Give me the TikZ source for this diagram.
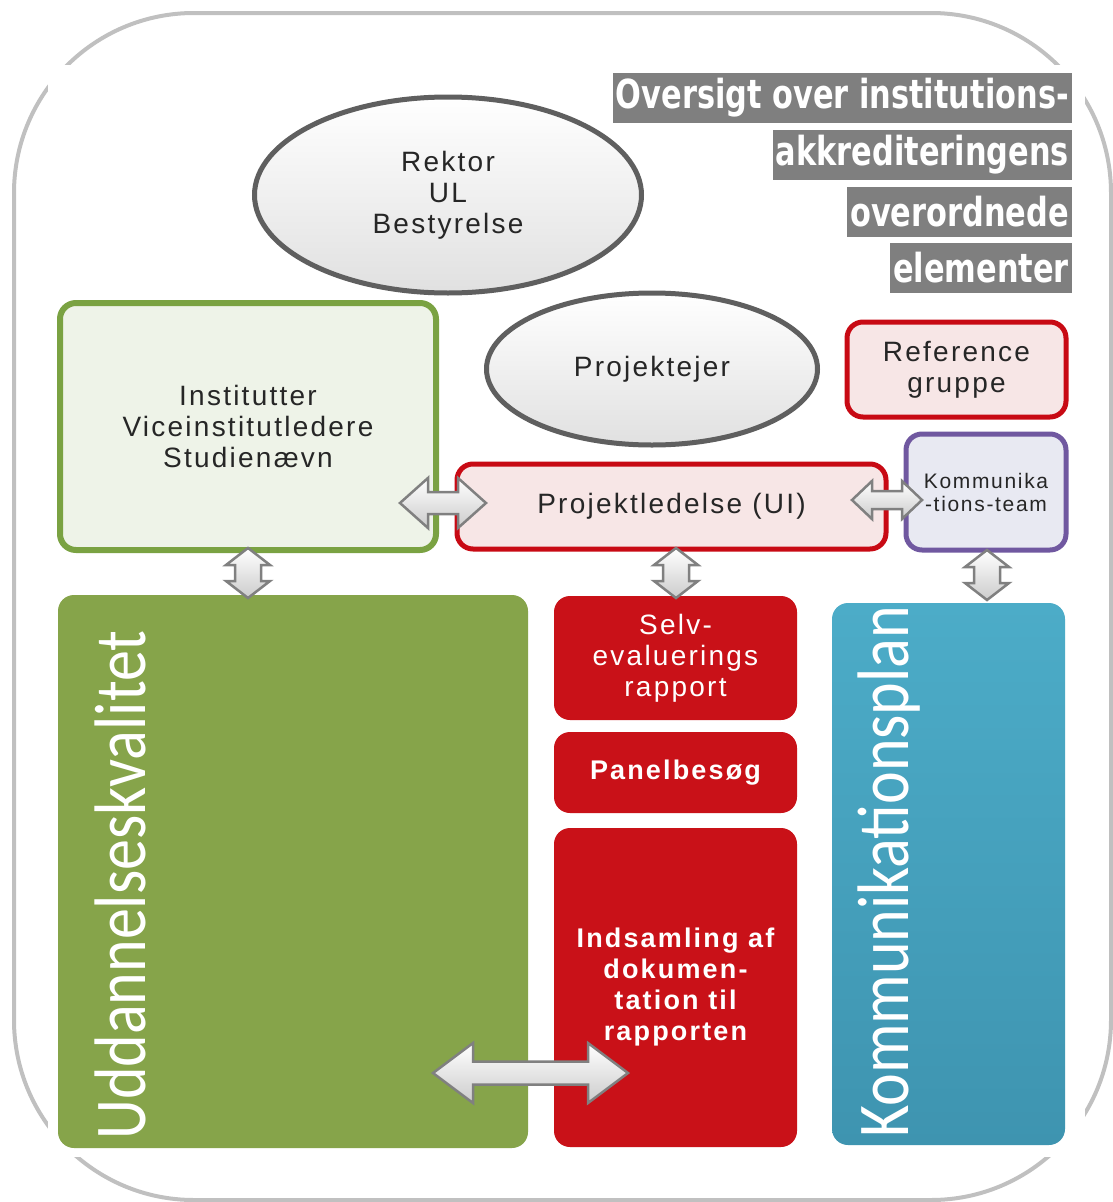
\documentclass[tikz,border=0pt]{standalone}
\usepackage{fontspec}
\usetikzlibrary{shapes.geometric}
\newfontfamily\arialls[LetterSpace=8]{Liberation Sans}
\newfontfamily\titlef[FakeStretch=0.76]{DejaVu Sans}
\newfontfamily\calib[FakeStretch=0.85]{Carlito}
\definecolor{framegray}{RGB}{192,192,192}
\definecolor{titlegray}{RGB}{127,127,127}
\definecolor{ellgray}{RGB}{95,95,95}
\definecolor{txtdark}{RGB}{38,38,38}
\definecolor{grnborder}{RGB}{122,162,66}
\definecolor{grnfill}{RGB}{238,243,232}
\definecolor{redborder}{RGB}{200,10,20}
\definecolor{redlight}{RGB}{247,230,230}
\definecolor{purpborder}{RGB}{112,88,160}
\definecolor{purpfill}{RGB}{232,233,242}
\definecolor{bigred}{RGB}{201,17,24}
\definecolor{biggreen}{RGB}{134,164,74}
\definecolor{bluetop}{RGB}{76,172,200}
\definecolor{bluebot}{RGB}{62,148,176}
\definecolor{arrgray}{RGB}{128,128,128}
\definecolor{arrfill}{RGB}{240,240,240}
\newcommand\dblblockarrow[7]{%
  \begin{scope}[shift={(#1,#2)},rotate=#7]
    \draw[barrow] (-#3,0) -- (-#3+#4,-#5) -- (-#3+#4,-#6) -- (#3-#4,-#6) -- (#3-#4,-#5)
      -- (#3,0) -- (#3-#4,#5) -- (#3-#4,#6) -- (-#3+#4,#6) -- (-#3+#4,#5) -- cycle;
  \end{scope}}
\tikzset{
  mainf/.style={font=\arialls\fontsize{28}{31}\selectfont},
  mainbf/.style={font=\arialls\bfseries\fontsize{27}{31}\selectfont},
  ell/.style={ellipse, draw=ellgray, line width=5pt, top color=white, bottom color=black!12,
    inner sep=0pt, text=txtdark, align=center, mainf},
  rbox/.style={rectangle, rounded corners=16pt, inner sep=0pt, align=center, line width=5pt},
  bigbox/.style={rectangle, rounded corners=16pt, inner sep=0pt, align=center},
  titlebox/.style={fill=titlegray, text=white, anchor=east, inner xsep=3pt, inner ysep=0pt,
    minimum height=50pt, font=\titlef\bfseries\fontsize{40}{40}\selectfont},
  vtext/.style={rotate=90, anchor=base west, inner sep=0pt, text=white,
    font=\calib\fontsize{73}{73}\selectfont},
  barrow/.style={draw=arrgray, line width=2.5pt, top color=white, bottom color=arrfill!85!black, line join=miter}
}
\begin{document}
\begin{tikzpicture}[x=1pt,y=-1pt]
\useasboundingbox (0,0) rectangle (1113,1202);
\draw[framegray, line width=4pt, rounded corners=180pt] (14,13) rectangle (1111,1200);
\fill[white] (48,65) rectangle (1085,1157);

% title
\node[titlebox] (t1) at (1072,98) {Oversigt over institutions-};
\node[titlebox] (t2) at (1072,155) {akkrediteringens};
\node[titlebox] (t3) at (1072,212) {overordnede};
\node[titlebox] (t4) at (1072,268) {elementer};

% ellipses
\node[ell, minimum width=387pt, minimum height=196pt] (rektor) at (448,195) {Rektor\\UL\\Bestyrelse};
\node[ell, minimum width=331pt, minimum height=152pt] (ejer) at (652,369) {Projektejer};

% upper boxes
\node[rbox, draw=redborder, fill=redlight, minimum width=219pt, minimum height=95pt, text=txtdark, mainf]
  (ref) at (956.5,369.5) {Reference\\gruppe};
\node[rbox, draw=grnborder, fill=grnfill, line width=6pt, minimum width=376pt, minimum height=247pt, text=txtdark, mainf]
  (inst) at (248,426.5) {Institutter\\Viceinstitutledere\\Studienævn};
\node[rbox, draw=redborder, fill=redlight, minimum width=429pt, minimum height=85pt, text=txtdark, mainf]
  (pl) at (671.5,506.5) {Projektledelse (UI)};
\node[rbox, draw=purpborder, fill=purpfill, minimum width=160pt, minimum height=116pt, text=txtdark,
  font=\arialls\fontsize{21}{23}\selectfont]
  (kt) at (986,492) {Kommunika\\-tions-team};

% big boxes
\node[bigbox, fill=biggreen, minimum width=470pt, minimum height=553pt] (udd) at (293,871.5) {};
\node[vtext] (uddt) at (145,1140) {Uddannelseskvalitet};
\node[bigbox, top color=bluetop, bottom color=bluebot, minimum width=233pt, minimum height=542pt] (kp) at (948.5,874) {};
\node[vtext] (kpt) at (908,1138) {Kommunikationsplan};

\node[bigbox, fill=bigred, minimum width=243pt, minimum height=124pt, text=white, mainf]
  (selv) at (675.5,658) {Selv-\\evaluerings\\rapport};
\node[bigbox, fill=bigred, minimum width=243pt, minimum height=81pt, text=white, mainbf]
  (panel) at (675.5,772.5) {Panelbesøg};
\node[bigbox, fill=bigred, minimum width=243pt, minimum height=319pt, text=white, mainbf]
  (inds) at (675.5,987.5) {Indsamling af\\dokumen-\\tation til\\rapporten};

% arrows
\dblblockarrow{443}{503}{43}{28}{25}{11}{0}
\dblblockarrow{887}{500}{35}{20}{19}{9}{0}
\dblblockarrow{248}{573}{25}{17}{22}{13}{90}
\dblblockarrow{676}{573}{25}{17}{22}{13}{90}
\dblblockarrow{987}{575}{25}{17}{22}{13}{90}
\dblblockarrow{530.5}{1073}{97.5}{40}{30}{11.5}{0}
\end{tikzpicture}
\end{document}
